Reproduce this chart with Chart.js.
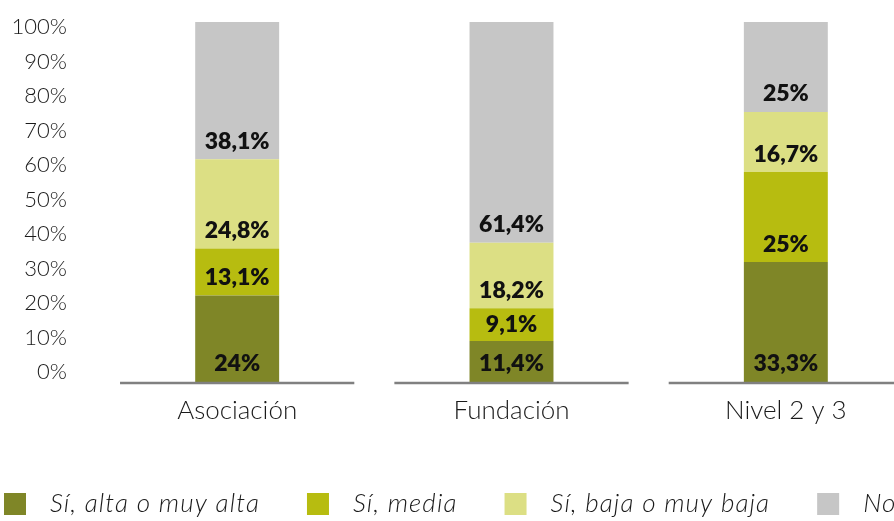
<!DOCTYPE html>
<html>
<head>
<meta charset="utf-8">
<script src="https://cdn.jsdelivr.net/npm/chart.js@4"></script>
<style>
  html, body { margin: 0; padding: 0; background: #fff; overflow: hidden; }
  canvas { display: block; }
</style>
</head>
<body>
<canvas id="myChart" width="940" height="521"></canvas>
<script>
const categories = ["Asociación", "Fundación", "Nivel 2 y 3"];
const seriesNames = ["Sí, alta o muy alta", "Sí, media", "Sí, baja o muy baja", "No"];
const altaValues = [24, 11.4, 33.3];
const mediaValues = [13.1, 9.1, 25];
const bajaValues = [24.8, 18.2, 16.7];
const noValues = [38.1, 61.4, 25];
const yTicks = [0, 10, 20, 30, 40, 50, 60, 70, 80, 90, 100];
const colors = ["#7f8627", "#b7bc10", "#dcdf84", "#c6c6c6"];

const pct = (v) => String(v).replace(".", ",") + "%";

// the x axis is drawn as one short line under each category
const axisSegments = {
  id: "axisSegments",
  afterDatasetsDraw(chart) {
    const ctx = chart.ctx;
    const x = chart.scales.x;
    const area = chart.chartArea;
    const step = (area.right - area.left) / categories.length;
    ctx.save();
    ctx.strokeStyle = "#808080";
    ctx.lineWidth = 2.5;
    categories.forEach((c, i) => {
      const cx = x.getPixelForValue(i);
      ctx.beginPath();
      ctx.moveTo(cx - step * 0.427, area.bottom + 1);
      ctx.lineTo(cx + step * 0.427, area.bottom + 1);
      ctx.stroke();
    });
    ctx.restore();
  }
};

// values written near the base of each segment
const segmentLabels = {
  id: "segmentLabels",
  afterDatasetsDraw(chart) {
    const ctx = chart.ctx;
    ctx.save();
    ctx.font = "800 23px Lato";
    ctx.fillStyle = "#111";
    ctx.textAlign = "center";
    ctx.textBaseline = "middle";
    chart.data.datasets.forEach((ds, d) => {
      chart.getDatasetMeta(d).data.forEach((bar, i) => {
        const h = bar.base - bar.y;
        ctx.fillText(pct(ds.data[i]), bar.x, bar.base - Math.min(18, h / 2));
      });
    });
    ctx.restore();
  }
};

const bottomLegend = {
  id: "bottomLegend",
  afterDraw(chart) {
    const ctx = chart.ctx;
    let x = 4;
    const y = 504;
    ctx.save();
    ctx.font = "italic 300 26px Lato";
    ctx.letterSpacing = "1.1px";
    ctx.textBaseline = "middle";
    chart.data.datasets.forEach((ds) => {
      ctx.fillStyle = ds.backgroundColor;
      ctx.fillRect(x, y - 11, 22, 22);
      x += 22 + 24;
      ctx.fillStyle = "#1a1a1a";
      ctx.fillText(ds.label, x, y);
      x += ctx.measureText(ds.label).width + 47;
    });
    ctx.restore();
  }
};

const seriesValues = [altaValues, mediaValues, bajaValues, noValues];

new Chart(document.getElementById("myChart"), {
  type: "bar",
  data: {
    labels: categories,
    datasets: seriesNames.map((name, i) => ({
      label: name,
      data: seriesValues[i],
      backgroundColor: colors[i],
      yAxisID: "y",
      categoryPercentage: 1,
      barPercentage: 0.306
    }))
  },
  options: {
    responsive: false,
    animation: false,
    layout: { padding: { top: 22, right: 17, left: 0, bottom: 0 } },
    plugins: { legend: { display: false }, tooltip: { enabled: false } },
    scales: {
      x: {
        stacked: true,
        grid: { display: false, drawTicks: false },
        border: { display: false },
        ticks: { padding: 13, color: "#1a1a1a", font: { family: "Lato", size: 26, weight: 300 } },
        afterFit: (axis) => { axis.height = 139; }
      },
      y: {
        stacked: true,
        min: 0,
        max: 100,
        display: false
      },
      yl: {
        type: "linear",
        position: "left",
        min: -2.9,
        max: 101.5,
        grid: { display: false, drawTicks: false },
        border: { display: false },
        afterBuildTicks: (axis) => { axis.ticks = yTicks.map((v) => ({ value: v })); },
        afterFit: (axis) => {
          axis.width = 100;
          axis.paddingTop = 0;
          axis.paddingBottom = 0;
        },
        ticks: {
          padding: 33,
          color: "#1a1a1a",
          font: { family: "Lato", size: 22, weight: 300 },
          callback: (v) => v + "%"
        }
      }
    }
  },
  plugins: [axisSegments, segmentLabels, bottomLegend]
});
</script>
</body>
</html>
